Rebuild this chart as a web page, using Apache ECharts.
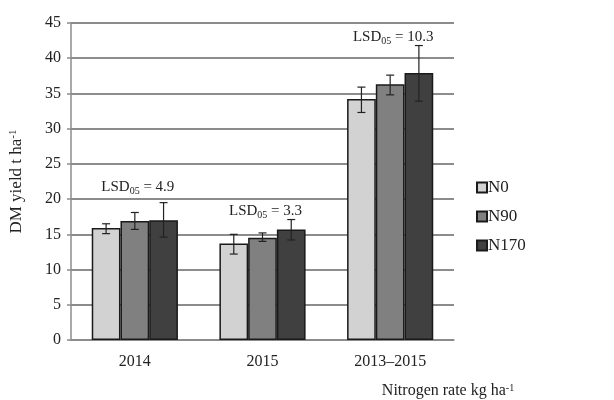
<!DOCTYPE html>
<html>
<head>
<meta charset="utf-8">
<script src="https://cdn.jsdelivr.net/npm/echarts@6/dist/echarts.min.js"></script>
<style>html,body{margin:0;padding:0;background:#fff}#chart{width:614px;height:400px}</style>
</head>
<body>
<div id="chart"></div>
<script>
var categories = ['2014', '2015', '2013–2015'];
var seriesNames = ['N0', 'N90', 'N170'];
var n0 = [15.9, 13.7, 34.2];
var n90 = [16.9, 14.5, 36.3];
var n170 = [17.0, 15.7, 37.9];
// error bar low / high
var n0Err = [[15.1, 16.5], [12.2, 15.0], [32.3, 35.9]];
var n90Err = [[15.7, 18.1], [14.0, 15.2], [34.8, 37.6]];
var n170Err = [[14.6, 19.5], [14.2, 17.1], [33.9, 41.8]];
var lsdValues = ['4.9', '3.3', '10.3'];
var lsdLabelY = [21.7, 18.3, 43.0];

var colors = ['#d2d2d2', '#808080', '#404040'];
var font = 'Liberation Serif';

var chart = echarts.init(document.getElementById('chart'));

function errSeries(idx, errs) {
	return {
		type: 'custom',
		z: 10,
		silent: true,
		data: errs.map(function (e, i) { return [i, e[0], e[1]]; }),
		renderItem: function (params, api) {
			var w = api.size([1, 0])[0] * 0.225;
			var lo = api.coord([api.value(0), api.value(1)]);
			var hi = api.coord([api.value(0), api.value(2)]);
			var x = lo[0] + (idx - 1) * w;
			var cap = 4;
			var st = { stroke: '#222', lineWidth: 1.2 };
			return {
				type: 'group',
				children: [
					{ type: 'line', shape: { x1: x, y1: lo[1], x2: x, y2: hi[1] }, style: st },
					{ type: 'line', shape: { x1: x - cap, y1: lo[1], x2: x + cap, y2: lo[1] }, style: st },
					{ type: 'line', shape: { x1: x - cap, y1: hi[1], x2: x + cap, y2: hi[1] }, style: st }
				]
			};
		}
	};
}

function barSeries(idx, vals) {
	return {
		name: seriesNames[idx],
		type: 'bar',
		barWidth: '22.5%',
		barGap: '0%',
		data: vals,
		itemStyle: { color: colors[idx], borderColor: '#1a1a1a', borderWidth: 1.5 }
	};
}

var option = {
	animation: false,
	textStyle: { fontFamily: font },
	grid: { left: 68, right: 160, top: 23, bottom: 60 },
	legend: {
		orient: 'vertical',
		left: 471,
		top: 174,
		icon: 'rect',
		itemWidth: 10,
		itemHeight: 10,
		itemGap: 12,
		data: seriesNames,
		textStyle: { fontFamily: font, fontSize: 17, color: '#222', padding: [0, 0, 0, -4] }
	},
	xAxis: {
		type: 'category',
		data: categories,
		name: 'Nitrogen rate kg ha{sup|-1}',
		nameLocation: 'end',
		nameGap: -6,
		nameTextStyle: {
			fontFamily: font, fontSize: 16, color: '#222', align: 'center', verticalAlign: 'top',
			padding: [43, 0, 0, 0],
			rich: { sup: { fontFamily: font, fontSize: 10, verticalAlign: 'top', padding: [0, 0, 6, 0], color: '#222' } }
		},
		axisLine: { lineStyle: { color: '#8c8c8c', width: 1.5 } },
		axisTick: { length: 5, lineStyle: { color: '#8c8c8c', width: 1.5 } },
		axisLabel: { fontFamily: font, fontSize: 16, color: '#222', margin: 14 }
	},
	yAxis: {
		type: 'value',
		min: 0,
		max: 45,
		interval: 5,
		name: 'DM yield t ha{sup|-1}',
		nameLocation: 'middle',
		nameGap: 46,
		nameTextStyle: {
			fontFamily: font, fontSize: 17, color: '#222',
			rich: { sup: { fontFamily: font, fontSize: 11, padding: [0, 0, 6, 0], color: '#222' } }
		},
		axisLine: { show: true, lineStyle: { color: '#8c8c8c', width: 1.5 } },
		axisTick: { show: true, length: 4, lineStyle: { color: '#8c8c8c', width: 1.5 } },
		axisLabel: { fontFamily: font, fontSize: 16, color: '#222', margin: 10 },
		splitLine: { lineStyle: { color: '#8c8c8c', width: 1.8 } }
	},
	series: [
		barSeries(0, n0),
		barSeries(1, n90),
		barSeries(2, n170),
		errSeries(0, n0Err),
		errSeries(1, n90Err),
		errSeries(2, n170Err),
		{
			type: 'custom',
			z: 11,
			silent: true,
			data: lsdValues.map(function (v, i) { return [i, lsdLabelY[i]]; }),
			renderItem: function (params, api) {
				var p = api.coord([api.value(0), api.value(1)]);
				return {
					type: 'text',
					x: p[0] + 3,
					y: p[1],
					style: {
						text: 'LSD{sub|05} = ' + lsdValues[params.dataIndex],
						fontFamily: font,
						fontSize: 15,
						fill: '#222',
						align: 'center',
						verticalAlign: 'middle',
						rich: { sub: { fontFamily: font, fontSize: 10, padding: [8, 0, 0, 0], fill: '#222' } }
					}
				};
			}
		}
	]
};
chart.setOption(option);
</script>
</body>
</html>
